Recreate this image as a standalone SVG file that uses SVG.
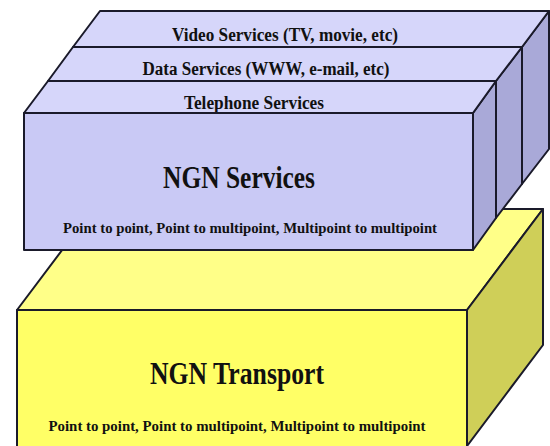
<svg xmlns="http://www.w3.org/2000/svg" width="550" height="446" viewBox="0 0 550 446">
<style>
.e{stroke:#1a1a2a;stroke-width:2;stroke-linejoin:round}
.bt{fill:#d6d6fa}
.bf{fill:#c9c9f5}
.bs{fill:#a9a9d8}
.yt{fill:#ffff88}
.yf{fill:#ffff66}
.ys{fill:#cfcf58}
text{font-family:"Liberation Serif","Times New Roman",serif;font-weight:bold;fill:#111;text-anchor:middle}
.s{font-size:18px}
.b{font-size:31px}
.p{font-size:15px}
</style>
<rect width="550" height="446" fill="#ffffff"/>
<g id="ngn-transport">
<polygon class="yt e" points="17,310 93,209 543,209 467,310"/>
<polygon class="ys e" points="467,310 543,209 543,345 467,446"/>
<rect class="yf e" x="17" y="310" width="450" height="137"/>
<text class="b" x="237" y="384" textLength="174" lengthAdjust="spacingAndGlyphs">NGN Transport</text>
<text class="p" x="237" y="431" textLength="377" lengthAdjust="spacingAndGlyphs">Point to point, Point to multipoint, Multipoint to multipoint</text>
</g>
<g id="video-services">
<polygon class="bs e" points="522,47 549,11 549,149 522,184"/>
<polygon class="bt e" points="73,47 100,11 549,11 522,47"/>
<text class="s" x="285" y="41" textLength="226" lengthAdjust="spacingAndGlyphs">Video Services (TV, movie, etc)</text>
</g>
<g id="data-services">
<polygon class="bs e" points="496,81 522,47 522,184 496,218"/>
<polygon class="bt e" points="48,81 73,47 522,47 496,81"/>
<text class="s" x="266" y="75" textLength="247" lengthAdjust="spacingAndGlyphs">Data Services (WWW, e-mail, etc)</text>
</g>
<g id="telephone-services">
<polygon class="bs e" points="473,113 496,81 496,218 473,250"/>
<polygon class="bt e" points="24,113 48,81 496,81 473,113"/>
<text class="s" x="254" y="109" textLength="140" lengthAdjust="spacingAndGlyphs">Telephone Services</text>
</g>
<g id="ngn-services">
<rect class="bf e" x="24" y="113" width="449" height="137"/>
<text class="b" x="239" y="188" textLength="152" lengthAdjust="spacingAndGlyphs">NGN Services</text>
<text class="p" x="250" y="233" textLength="374" lengthAdjust="spacingAndGlyphs">Point to point, Point to multipoint, Multipoint to multipoint</text>
</g>
<g id="connectors"/>
</svg>
